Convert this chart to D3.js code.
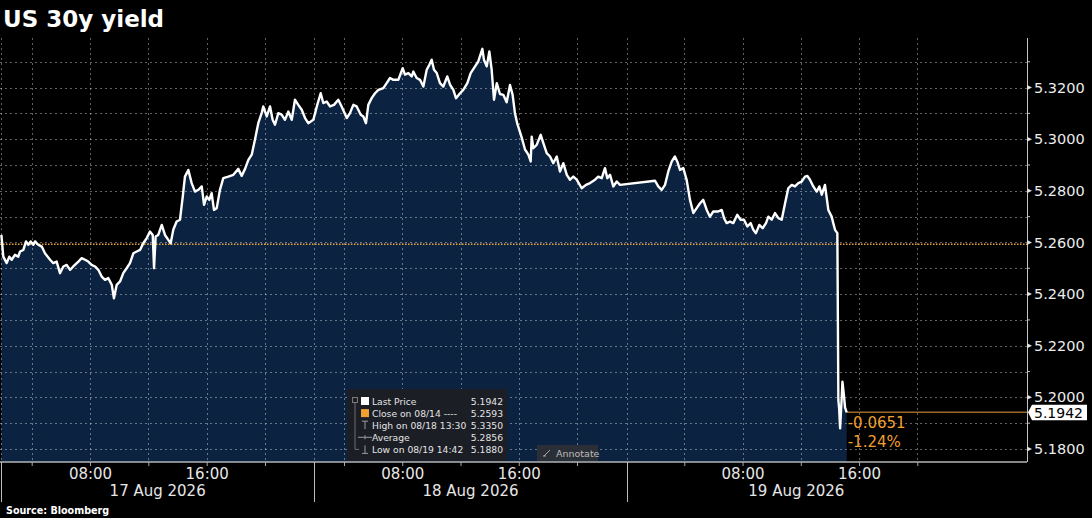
<!DOCTYPE html>
<html>
<head>
<meta charset="utf-8">
<script src="https://cdn.jsdelivr.net/npm/d3@7"></script>
<style>
  html, body { margin: 0; padding: 0; background: #000; }
  svg { display: block; }
  text { font-family: "DejaVu Sans", sans-serif; }
</style>
</head>
<body>
<div id="chart"></div>
<script>
// Text
const title = "US 30y yield";
const source = "Source: Bloomberg";
const dayLabels = ["17 Aug 2026", "18 Aug 2026", "19 Aug 2026"];
const dayOffsets = [0, 24, 48];

// Intraday yield, [hour of day, yield] per trading day
const aug17 = [
  [0.05,5.2629],[0.30,5.2545],[0.74,5.2520],[1.08,5.2545],[1.39,5.2533],[1.82,5.2552],[2.25,5.2545],
  [2.48,5.2565],[2.91,5.2571],[3.26,5.2604],[3.56,5.2591],[3.87,5.2604],[4.11,5.2591],[4.23,5.2604],
  [4.45,5.2591],[4.69,5.2584],[4.91,5.2558],[5.26,5.2533],[5.48,5.2520],[5.71,5.2526],[5.94,5.2481],
  [6.17,5.2507],[6.40,5.2513],[6.63,5.2494],[6.85,5.2507],[7.20,5.2526],[7.43,5.2539],[7.66,5.2533],
  [7.88,5.2526],[8.11,5.2513],[8.34,5.2507],[8.57,5.2494],[8.80,5.2468],[9.03,5.2455],[9.25,5.2462],
  [9.49,5.2436],[9.64,5.2384],[9.83,5.2436],[10.06,5.2449],[10.28,5.2481],[10.51,5.2500],[10.74,5.2520],
  [10.97,5.2558],[11.20,5.2565],[11.43,5.2571],[11.65,5.2597],[11.89,5.2617],[12.11,5.2642],[12.30,5.2629],
  [12.39,5.2500],[12.50,5.2623],[12.68,5.2629],[12.92,5.2668],[13.14,5.2629],[13.37,5.2610],[13.53,5.2597],
  [13.71,5.2649],[13.94,5.2681],[14.17,5.2688],[14.36,5.2778],[14.51,5.2855],[14.74,5.2881],[14.97,5.2830],
  [15.20,5.2797],[15.43,5.2804],[15.66,5.2817],[15.82,5.2746],[16.00,5.2778],[16.18,5.2765],[16.34,5.2791],
  [16.50,5.2726],[16.69,5.2733],[16.91,5.2804],[17.14,5.2849],[17.48,5.2855],[17.83,5.2862],[18.17,5.2885],
  [18.40,5.2858],[18.63,5.2885],[18.86,5.2920],[19.09,5.2940],[19.31,5.2998],[19.54,5.3062],[19.77,5.3101],
  [19.88,5.3127],[20.14,5.3088],[20.41,5.3127],[20.62,5.3075],[20.81,5.3056],[21.08,5.3101],[21.35,5.3095],
  [21.62,5.3075],[21.89,5.3107],[22.17,5.3075],[22.43,5.3153],[22.70,5.3133],[22.98,5.3114],[23.25,5.3082],
  [23.51,5.3062],[23.92,5.3075]
];
const aug18 = [
  [0.40,5.3133],[0.86,5.3178],[1.21,5.3140],[1.67,5.3146],[2.11,5.3127],[2.65,5.3133],[3.23,5.3153],
  [3.68,5.3127],[4.19,5.3082],[4.41,5.3101],[4.64,5.3133],[4.87,5.3127],[5.15,5.3095],[5.33,5.3088],
  [5.51,5.3062],[5.67,5.3133],[5.90,5.3159],[6.13,5.3178],[6.36,5.3191],[6.70,5.3198],[6.93,5.3217],
  [7.16,5.3237],[7.39,5.3230],[7.73,5.3230],[8.03,5.3275],[8.19,5.3250],[8.42,5.3256],[8.65,5.3243],
  [8.76,5.3262],[8.99,5.3237],[9.22,5.3230],[9.45,5.3204],[9.68,5.3269],[9.86,5.3288],[10.02,5.3308],
  [10.18,5.3269],[10.37,5.3256],[10.59,5.3217],[10.82,5.3204],[11.09,5.3243],[11.28,5.3211],[11.51,5.3191],
  [11.69,5.3159],[11.97,5.3178],[12.19,5.3191],[12.47,5.3217],[12.70,5.3256],[13.00,5.3282],[13.22,5.3301],
  [13.50,5.3350],[13.61,5.3308],[13.80,5.3282],[13.98,5.3340],[14.14,5.3269],[14.30,5.3153],[14.49,5.3217],
  [14.71,5.3175],[14.94,5.3172],[15.17,5.3143],[15.40,5.3210],[15.58,5.3172],[15.74,5.3100],[15.90,5.3060],
  [16.20,5.3007],[16.43,5.2960],[16.66,5.2940],[16.82,5.2914],[16.89,5.3010],[17.00,5.2965],[17.23,5.2978],
  [17.51,5.3017],[17.69,5.2985],[17.92,5.2946],[18.15,5.2933],[18.37,5.2907],[18.61,5.2933],[18.83,5.2875],
  [19.06,5.2907],[19.30,5.2862],[19.52,5.2843],[19.75,5.2855],[19.98,5.2843],[20.38,5.2810],[20.72,5.2823],
  [21.05,5.2830],[21.45,5.2843],[21.71,5.2855],[21.99,5.2849],[22.25,5.2888],[22.44,5.2849],[22.66,5.2862],
  [22.92,5.2817],[23.20,5.2836],[23.46,5.2823]
];
const aug19 = [
  [1.97,5.2839],[2.19,5.2817],[2.43,5.2804],[2.66,5.2823],[2.89,5.2875],[3.13,5.2914],[3.35,5.2933],
  [3.51,5.2914],[3.70,5.2881],[3.93,5.2888],[4.16,5.2843],[4.39,5.2765],[4.62,5.2714],[4.85,5.2733],
  [5.08,5.2752],[5.30,5.2765],[5.54,5.2726],[5.76,5.2700],[5.99,5.2720],[6.33,5.2720],[6.57,5.2726],
  [6.73,5.2694],[6.91,5.2675],[7.14,5.2681],[7.36,5.2675],[7.64,5.2707],[7.87,5.2688],[8.10,5.2688],
  [8.33,5.2662],[8.56,5.2675],[8.74,5.2649],[8.92,5.2636],[9.15,5.2668],[9.38,5.2655],[9.61,5.2675],
  [9.77,5.2700],[10.00,5.2688],[10.23,5.2714],[10.46,5.2694],[10.69,5.2688],[10.92,5.2752],[11.14,5.2810],
  [11.38,5.2823],[11.60,5.2817],[11.83,5.2830],[12.06,5.2836],[12.29,5.2855],[12.45,5.2858],[12.63,5.2843],
  [12.86,5.2817],[13.09,5.2797],[13.27,5.2817],[13.44,5.2785],[13.66,5.2823],[13.89,5.2726],[14.12,5.2700],
  [14.23,5.2675],[14.35,5.2649],[14.51,5.2636],[14.58,5.1990],[14.64,5.1950],[14.70,5.1880],[14.80,5.1990],
  [14.86,5.2061],[14.96,5.2009],[15.04,5.1960],[15.15,5.1942]
];

// Reference levels and stats
const closePrice = 5.2593;
const lastPrice = 5.1942;
const netChange = "-0.0651";
const pctChange = "-1.24%";
const legendRows = [
  { label: "Last Price", value: "5.1942" },
  { label: "Close on 08/14 ----", value: "5.2593" },
  { label: "High on 08/18 13:30", value: "5.3350" },
  { label: "Average", value: "5.2856" },
  { label: "Low on 08/19 14:42", value: "5.1880" }
];

// Axis ticks
const yLabelTicks = [5.18, 5.20, 5.22, 5.24, 5.26, 5.28, 5.30, 5.32];
const yMinorTicks = [5.19, 5.21, 5.23, 5.25, 5.27, 5.29, 5.31, 5.33];
const hourTicks = [4, 8, 12, 16, 20];
const labelledHours = [8, 16];

// Chart size
const width = 1092, height = 518;
const plot = { left: 0, right: 1027, top: 38, bottom: 462 };

const svg = d3.select("#chart")
  .append("svg")
    .attr("width", width)
    .attr("height", height)
    .style("background", "#000");

// Bloomberg squeezes the overnight hours, so the time scale is piecewise
const x = d3.scaleLinear()
  .domain([0, 4, 20, 24, 28, 44, 48, 52, 68, 72, 77])
  .range([1, 31.7, 265, 314.3, 344, 577, 626.7, 684.3, 917.3, 966, plot.right]);

const y = d3.scaleLinear()
  .domain([5.17496, 5.3392])
  .range([plot.bottom, plot.top]);

const series = [aug17, aug18, aug19].flatMap((day, i) =>
  day.map(([h, v]) => ({ t: h + dayOffsets[i], v })));

const area = d3.area()
  .x(d => x(d.t))
  .y0(plot.bottom)
  .y1(d => y(d.v));

const line = d3.line()
  .x(d => x(d.t))
  .y(d => y(d.v));

// Area under the price
svg.append("path")
  .datum(series)
  .attr("fill", "#0b2341")
  .attr("d", area);

// Grid
const grid = svg.append("g")
  .attr("stroke", "#ffffff")
  .attr("stroke-opacity", 0.38)
  .attr("stroke-dasharray", "2,3")
  .attr("stroke-width", 1);

grid.selectAll(".hgrid")
  .data(yLabelTicks.concat(yMinorTicks))
  .enter()
  .append("line")
    .attr("x1", plot.left)
    .attr("x2", plot.right)
    .attr("y1", d => Math.round(y(d)) + 0.5)
    .attr("y2", d => Math.round(y(d)) + 0.5);

const tickTimes = dayOffsets.flatMap(o => hourTicks.map(h => h + o));
const separators = dayOffsets;

grid.selectAll(".vgrid")
  .data(tickTimes.concat(separators))
  .enter()
  .append("line")
    .attr("x1", d => Math.round(x(d)) + 0.5)
    .attr("x2", d => Math.round(x(d)) + 0.5)
    .attr("y1", plot.top)
    .attr("y2", plot.bottom);

// Previous close
svg.append("line")
  .attr("x1", plot.left)
  .attr("x2", plot.right)
  .attr("y1", y(closePrice))
  .attr("y2", y(closePrice))
  .attr("stroke", "#eaa23e")
  .attr("stroke-width", 1.6)
  .attr("stroke-dasharray", "1.5,1.5");

// Last price line
const lastT = series[series.length - 1].t;
svg.append("line")
  .attr("x1", x(lastT))
  .attr("x2", plot.right)
  .attr("y1", y(lastPrice))
  .attr("y2", y(lastPrice))
  .attr("stroke", "#9c6a26")
  .attr("stroke-width", 1.5);

// Price
svg.append("path")
  .datum(series)
  .attr("fill", "none")
  .attr("stroke", "#ffffff")
  .attr("stroke-width", 2.4)
  .attr("stroke-linejoin", "round")
  .attr("d", line);

// Change texts
const chg = svg.append("g")
  .attr("fill", "#f29f2f")
  .style("font-size", "15px");
chg.append("text")
  .attr("x", x(lastT) + 1)
  .attr("y", y(lastPrice) + 16)
  .text(netChange);
chg.append("text")
  .attr("x", x(lastT) + 1)
  .attr("y", y(lastPrice) + 35)
  .text(pctChange);

// Bottom axis
const xAxis = svg.append("g")
  .attr("transform", `translate(0, ${plot.bottom})`)
  .call(d3.axisBottom(x)
    .tickValues(tickTimes)
    .tickSize(4)
    .tickPadding(2)
    .tickFormat(t => labelledHours.includes(t % 24) ? d3.format("02d")(t % 24) + ":00" : ""));
xAxis.select(".domain").remove();
xAxis.selectAll(".tick line").attr("stroke", "#a8a8a8");
xAxis.selectAll(".tick text")
  .attr("fill", "#e6e6e6")
  .style("font-size", "15px")
  .style("font-family", "DejaVu Sans");

svg.append("line")
  .attr("x1", plot.left)
  .attr("x2", plot.right)
  .attr("y1", plot.bottom)
  .attr("y2", plot.bottom)
  .attr("stroke", "#b4b4b4")
  .attr("stroke-width", 1.5);

// Day separators below axis
svg.selectAll(".sep")
  .data(separators)
  .enter()
  .append("line")
    .attr("x1", d => Math.round(x(d)) + 0.5)
    .attr("x2", d => Math.round(x(d)) + 0.5)
    .attr("y1", plot.bottom)
    .attr("y2", plot.bottom + 40)
    .attr("stroke", "#bdbdbd")
    .attr("stroke-width", 1);

svg.selectAll(".daylabel")
  .data(dayLabels)
  .enter()
  .append("text")
    .attr("x", (d, i) => (x(dayOffsets[i]) + x(dayOffsets[i] + 24)) / 2)
    .attr("y", plot.bottom + 34)
    .attr("text-anchor", "middle")
    .attr("fill", "#e6e6e6")
    .style("font-size", "15px")
    .text(d => d);

// Right axis
svg.append("line")
  .attr("x1", plot.right + 0.5)
  .attr("x2", plot.right + 0.5)
  .attr("y1", plot.top)
  .attr("y2", plot.bottom)
  .attr("stroke", "#c4c4c4")
  .attr("stroke-width", 1);

const yAxis = svg.append("g")
  .attr("transform", `translate(${plot.right}, 0)`)
  .call(d3.axisRight(y)
    .tickValues(yLabelTicks)
    .tickSize(0)
    .tickPadding(7)
    .tickFormat(d3.format(".4f")));
yAxis.select(".domain").remove();
yAxis.selectAll(".tick text")
  .attr("fill", "#ececec")
  .style("font-size", "14.5px")
  .style("font-family", "DejaVu Sans");

// Triangular markers for labelled ticks
svg.selectAll(".tri")
  .data(yLabelTicks)
  .enter()
  .append("path")
    .attr("fill", "#e0e0e0")
    .attr("d", d => {
      const yy = y(d);
      return `M${plot.right},${yy - 2.5}L${plot.right + 5},${yy}L${plot.right},${yy + 2.5}Z`;
    });

svg.selectAll(".minor")
  .data(yMinorTicks)
  .enter()
  .append("line")
    .attr("x1", plot.right)
    .attr("x2", plot.right + 3)
    .attr("y1", d => y(d))
    .attr("y2", d => y(d))
    .attr("stroke", "#c4c4c4");

// Last price tag
const tagY = y(lastPrice);
svg.append("path")
  .attr("fill", "#ffffff")
  .attr("d", `M${plot.right + 1},${tagY}L${plot.right + 5},${tagY - 7.5}L1087,${tagY - 7.5}L1087,${tagY + 8}L${plot.right + 5},${tagY + 8}Z`);
svg.append("text")
  .attr("x", plot.right + 7)
  .attr("y", tagY + 6)
  .attr("fill", "#000")
  .style("font-size", "14px")
  .text(d3.format(".4f")(lastPrice));

// Legend panel
const lg = svg.append("g");
lg.append("rect")
  .attr("x", 347)
  .attr("y", 389)
  .attr("width", 160)
  .attr("height", plot.bottom - 389 - 1)
  .attr("fill", "#1b1e25");

const rowY = i => 405 + i * 12.1;

// tree guide on the left
lg.append("rect")
  .attr("x", 352.5).attr("y", 397.5)
  .attr("width", 5).attr("height", 5)
  .attr("fill", "none").attr("stroke", "#7a7a7a");
lg.append("path")
  .attr("fill", "none")
  .attr("stroke", "#6e6e6e")
  .attr("d", `M355,403V${rowY(4) - 4}H359`);

lg.selectAll(".lrow")
  .data(legendRows)
  .enter()
  .append("text")
    .attr("x", 372)
    .attr("y", (d, i) => rowY(i))
    .attr("fill", "#e4e4e4")
    .style("font-size", "9.2px")
    .text(d => d.label);

lg.selectAll(".lval")
  .data(legendRows)
  .enter()
  .append("text")
    .attr("x", 503)
    .attr("y", (d, i) => rowY(i))
    .attr("text-anchor", "end")
    .attr("fill", "#e4e4e4")
    .style("font-size", "9.2px")
    .text(d => d.value);

// legend icons
lg.append("rect").attr("x", 361).attr("y", rowY(0) - 8).attr("width", 8).attr("height", 8).attr("fill", "#ffffff");
lg.append("rect").attr("x", 361).attr("y", rowY(1) - 8).attr("width", 8).attr("height", 8).attr("fill", "#f0a030");
lg.append("path").attr("stroke", "#9a9a9a").attr("fill", "none")
  .attr("d", `M362,${rowY(2) - 8}H368M365,${rowY(2) - 8}V${rowY(2)}`);
lg.append("path").attr("stroke", "#9a9a9a").attr("fill", "none")
  .attr("d", `M358,${rowY(3) - 4}H372M365,${rowY(3) - 6}V${rowY(3) - 2}`);
lg.append("path").attr("stroke", "#9a9a9a").attr("fill", "none")
  .attr("d", `M365,${rowY(4) - 8}V${rowY(4)}M362,${rowY(4)}H368`);

// Annotate button
const ann = svg.append("g");
ann.append("rect")
  .attr("x", 537).attr("y", 445)
  .attr("width", 61).attr("height", 16)
  .attr("fill", "#2a2e36");
ann.append("path")
  .attr("stroke", "#a8a8a8")
  .attr("d", "M544,456L550,450M543,456H546");
ann.append("text")
  .attr("x", 556).attr("y", 456.5)
  .attr("fill", "#bdbdbd")
  .style("font-size", "9.5px")
  .text("Annotate");

// Title and source
svg.append("text")
  .attr("x", 3)
  .attr("y", 27)
  .attr("fill", "#ffffff")
  .style("font-size", "23px")
  .style("font-weight", "bold")
  .text(title);

svg.append("text")
  .attr("x", 6)
  .attr("y", 513.5)
  .attr("fill", "#ffffff")
  .style("font-size", "9.6px")
  .style("font-weight", "bold")
  .text(source);
</script>
</body>
</html>
